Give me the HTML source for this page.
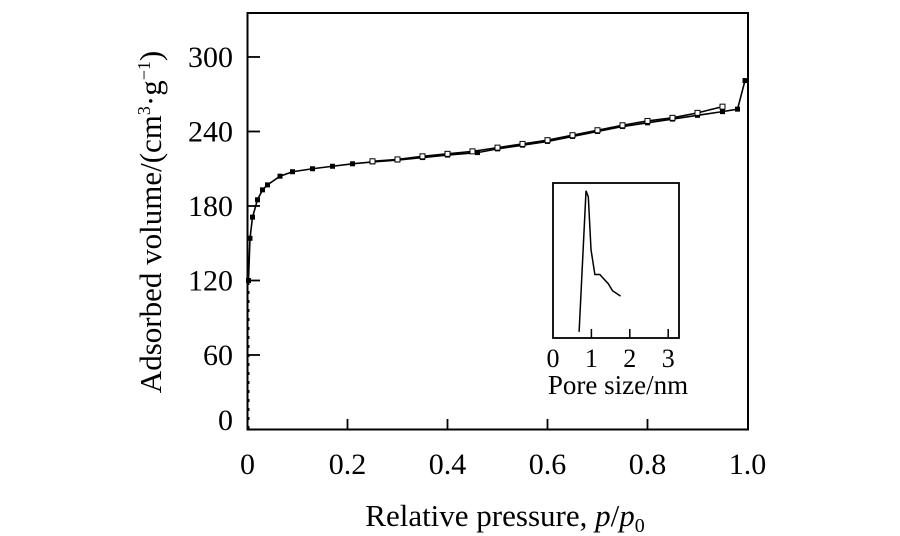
<!DOCTYPE html>
<html><head><meta charset="utf-8"><style>
body{margin:0;background:#fff}
svg{display:block;font-family:"Liberation Serif",serif}
</style></head><body>
<svg width="900" height="536" id="c">
<rect x="247.5" y="13" width="500.5" height="416.5" fill="none" stroke="#000" stroke-width="2"/>
<g id="axes"></g>
<g id="series"></g>
<text x="0" y="0" transform="translate(161,222) rotate(-90)" text-anchor="middle" font-size="31">Adsorbed volume/(cm<tspan font-size="18" dy="-11">3</tspan><tspan dy="11">·g</tspan><tspan font-size="18" dy="-11">−1</tspan><tspan dy="11">)</tspan></text>
<text x="505" y="526" text-anchor="middle" font-size="31">Relative pressure, <tspan font-style="italic">p</tspan>/<tspan font-style="italic">p</tspan><tspan font-size="20" dy="6">0</tspan></text>
<rect x="553" y="183" width="126" height="155" fill="none" stroke="#000" stroke-width="1.8"/>
<g id="inset"></g>
<text x="618" y="394" text-anchor="middle" font-size="27">Pore size/nm</text>
</svg>
<script>
const xTicks=[0,0.2,0.4,0.6,0.8,1.0];
const xTickLabels=["0","0.2","0.4","0.6","0.8","1.0"];
const yTicks=[0,60,120,180,240,300];
const adsP=[0.002,0.005,0.01,0.02,0.03,0.04,0.065,0.09,0.13,0.17,0.21,0.25,0.3,0.35,0.4,0.46,0.5,0.55,0.6,0.65,0.7,0.75,0.8,0.85,0.9,0.95,0.98,0.995];
const adsV=[120,154,171,185,193,197,204,207.6,210,212,214,215.5,217,219,221,223,226,229,232,236,240,244,247,250,253,256,258,281];
const desP=[0.25,0.3,0.35,0.4,0.45,0.5,0.55,0.6,0.65,0.7,0.75,0.8,0.85,0.9,0.95];
const desV=[216,217.5,220,222,224,227,230,233,237,241,245,248.5,251,255,260];
const poreX=[0.68,0.86,0.92,0.99,1.09,1.22,1.31,1.44,1.55,1.76];
const poreY=[4,95,91,57,41,41,38.5,35,30.5,27];
const inTicks=[0,1,2,3];
const NS="http://www.w3.org/2000/svg";
const X=p=>247.5+p*500, Y=v=>429.5-v*1.2417;
const IX=d=>553+d*38.4, IY=v=>338-v*1.55;
function mk(t,a,parent){const e=document.createElementNS(NS,t);for(const k in a)e.setAttribute(k,a[k]);document.getElementById(parent).appendChild(e);return e;}
xTicks.forEach((t,i)=>{
 if(i>0&&i<5){const l=mk('line',{x1:X(t),x2:X(t),y1:429.5,y2:419,stroke:'#000','stroke-width':1.8},'axes');
 
 }
 const tx=mk('text',{x:X(t),y:474,'text-anchor':'middle','font-size':30},'axes');tx.textContent=xTickLabels[i];
 
 
});
yTicks.forEach(t=>{
 if(t>0){const l=mk('line',{x1:247.5,x2:260,y1:Y(t),y2:Y(t),stroke:'#000','stroke-width':1.8},'axes');
 
 }
 const tx=mk('text',{x:233,y:(t===0?420:Y(t))+10,'text-anchor':'end','font-size':30},'axes');tx.textContent=t;
 
 
});
const dl=mk('line',{x1:248.5,x2:248.5,y1:429,y2:Y(adsV[0]),stroke:'#000','stroke-width':2,'stroke-dasharray':'3,6'},'series');


const aL=mk('polyline',{points:adsP.map((p,i)=>X(p)+','+Y(adsV[i])).join(' '),fill:'none',stroke:'#000','stroke-width':1.6},'series');


const dL=mk('polyline',{points:desP.map((p,i)=>X(p)+','+Y(desV[i])).join(' '),fill:'none',stroke:'#000','stroke-width':1.6},'series');


adsP.forEach((p,i)=>{const r=mk('rect',{x:X(p)-2.5,y:Y(adsV[i])-2.5,width:5,height:5,fill:'#000'},'series');
 
 });
desP.forEach((p,i)=>{const r=mk('rect',{x:X(p)-2.5,y:Y(desV[i])-2.5,width:5,height:5,fill:'#fff',stroke:'#000','stroke-width':1},'series');
 
 });
inTicks.forEach(t=>{
 if(t>0){const l=mk('line',{x1:IX(t),x2:IX(t),y1:338,y2:329,stroke:'#000','stroke-width':1.5},'inset');
 
 }
 const tx=mk('text',{x:IX(t),y:367,'text-anchor':'middle','font-size':26},'inset');tx.textContent=t;
 
 
});
const pl=mk('polyline',{points:poreX.map((d,i)=>IX(d)+','+IY(poreY[i])).join(' '),fill:'none',stroke:'#000','stroke-width':1.5},'inset');


</script>
</body></html>
